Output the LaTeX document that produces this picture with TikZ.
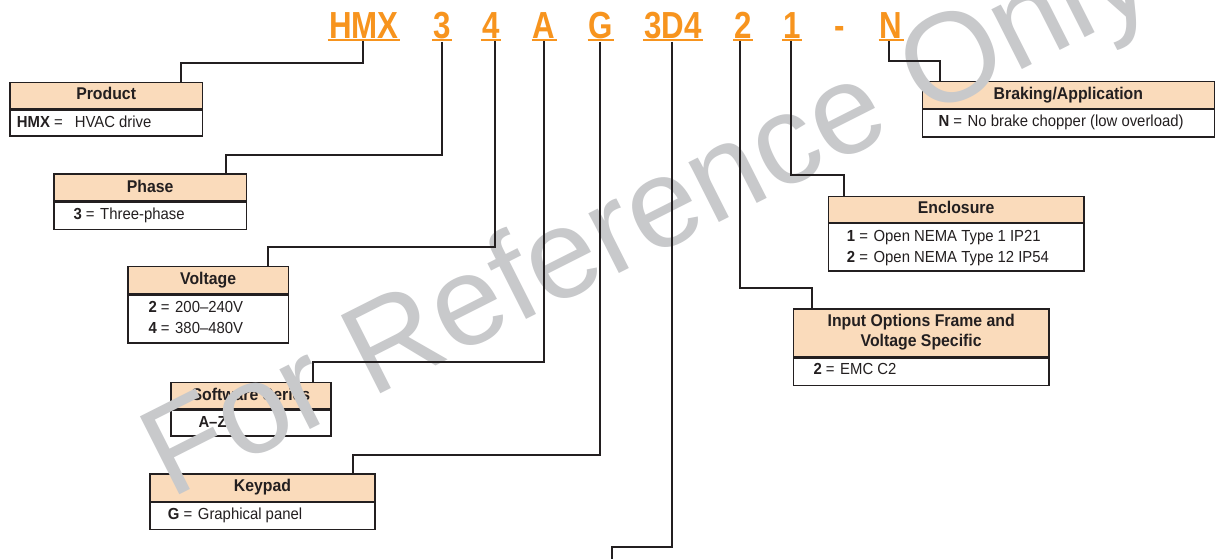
\documentclass[tikz,border=0pt]{standalone}
\usepackage{fontspec}
\setmainfont{Liberation Sans}
\newfontfamily\bodyfam{Liberation Sans}[FakeStretch=0.93]
\newfontfamily\codefam{Liberation Sans}[FakeStretch=0.83]
\newfontfamily\wmfam{Liberation Sans}
\usetikzlibrary{calc}
\definecolor{peach}{RGB}{250,219,187}
\definecolor{codeor}{RGB}{247,148,30}
\definecolor{wmgray}{RGB}{200,201,203}
\definecolor{ink}{RGB}{35,31,32}
\newcommand\myeq{\ =\ \hspace{1.5pt}}
\begin{document}
\begin{tikzpicture}[x=1pt,y=-1pt,
  hdrbox/.style={draw=ink, line width=1.3pt, fill=peach, inner sep=0pt, anchor=north west},
  bdybox/.style={draw=ink, line width=1.3pt, fill=white, inner sep=0pt, anchor=north west},
  htxt/.style={anchor=base, inner sep=0pt, font=\bodyfam\bfseries\fontsize{17}{20}\selectfont, text=ink},
  btxt/.style={anchor=base west, inner sep=0pt, font=\bodyfam\fontsize{16}{20}\selectfont, text=ink},
  codetxt/.style={anchor=base, inner sep=0pt, font=\codefam\bfseries\fontsize{37.7}{40}\selectfont, text=codeor},
  conn/.style={draw=ink, line width=2pt},
  uline/.style={draw=codeor, line width=2pt},
  wmark/.style={anchor=base west, inner sep=0pt, rotate=26.8, font=\wmfam\fontsize{127}{130}\selectfont, text=wmgray}
]
\useasboundingbox (0,0) rectangle (1215,559);
\fill[white] (0,0) rectangle (1215,559);

% ---- boxes ----
\node[hdrbox, minimum width=192.4pt, minimum height=26.6pt] (prodH) at (9.3,81.7) {};
\node[bdybox, minimum width=192.4pt, minimum height=25.7pt] (prodB) at (prodH.south west) {};
\node[htxt] (prodHt) at ($(prodH.north)+(0,18.3)$) {Product};
\node[btxt] (prodBt) at ($(prodB.north west)+(7.4,17.5)$) {\textbf{HMX} =\hspace{12pt}HVAC drive};

\node[hdrbox, minimum width=192.4pt, minimum height=26.7pt] (phaseH) at (53.3,173.3) {};
\node[bdybox, minimum width=192.4pt, minimum height=27.3pt] (phaseB) at (phaseH.south west) {};
\node[htxt] (phaseHt) at ($(phaseH.north)+(0,18.8)$) {Phase};
\node[btxt] (phaseBt) at ($(phaseB.north west)+(20,17.7)$) {\textbf{3}\myeq Three-phase};

\node[hdrbox, minimum width=160.4pt, minimum height=27.3pt] (voltH) at (127.3,266) {};
\node[bdybox, minimum width=160.4pt, minimum height=47.7pt] (voltB) at (voltH.south west) {};
\node[htxt] (voltHt) at ($(voltH.north)+(0,18.8)$) {Voltage};
\node[btxt] (voltBt1) at ($(voltB.north west)+(21,17.7)$) {\textbf{2}\myeq 200–240V};
\node[btxt] (voltBt2) at ($(voltB.north west)+(21,38.4)$) {\textbf{4}\myeq 380–480V};

\node[hdrbox, minimum width=160pt, minimum height=26.6pt] (swH) at (170.3,381.7) {};
\node[bdybox, minimum width=160pt, minimum height=25.7pt] (swB) at (swH.south west) {};
\node[htxt] (swHt) at ($(swH.north)+(0,18.3)$) {Software Series};
\node[btxt] (swBt) at ($(swB.north west)+(28,17.5)$) {\textbf{A–Z}};

\node[hdrbox, minimum width=225pt, minimum height=27.4pt] (keyH) at (149.3,473.3) {};
\node[bdybox, minimum width=225pt, minimum height=26.6pt] (keyB) at (keyH.south west) {};
\node[htxt] (keyHt) at ($(keyH.north)+(0,18.3)$) {Keypad};
\node[btxt] (keyBt) at ($(keyB.north west)+(18.4,17.5)$) {\textbf{G}\myeq Graphical panel};

\node[hdrbox, minimum width=292pt, minimum height=26.7pt] (brkH) at (921.7,81) {};
\node[bdybox, minimum width=292pt, minimum height=27.3pt] (brkB) at (brkH.south west) {};
\node[htxt] (brkHt) at ($(brkH.north)+(0,18.3)$) {Braking/Application};
\node[btxt] (brkBt) at ($(brkB.north west)+(16.6,17.5)$) {\textbf{N}\myeq No brake chopper (low overload)};

\node[hdrbox, minimum width=255.6pt, minimum height=26pt] (encH) at (827.7,195.7) {};
\node[bdybox, minimum width=255.6pt, minimum height=47.3pt] (encB) at (encH.south west) {};
\node[htxt] (encHt) at ($(encH.north)+(0,17.6)$) {Enclosure};
\node[btxt] (encBt1) at ($(encB.north west)+(19,18.3)$) {\textbf{1}\myeq Open NEMA Type 1 IP21};
\node[btxt] (encBt2) at ($(encB.north west)+(19,39.3)$) {\textbf{2}\myeq Open NEMA Type 12 IP54};

\node[hdrbox, minimum width=255.6pt, minimum height=47.7pt] (inH) at (792.7,308.3) {};
\node[bdybox, minimum width=255.6pt, minimum height=27.3pt] (inB) at (inH.south west) {};
\node[htxt] (inHt1) at ($(inH.north)+(0,18.4)$) {Input Options Frame and};
\node[htxt] (inHt2) at ($(inH.north)+(0,38.4)$) {Voltage Specific};
\node[btxt] (inBt) at ($(inB.north west)+(20.6,17.3)$) {\textbf{2}\myeq EMC C2};

% ---- watermark ----
\node[wmark] (wm) at (170,500) {For Reference Only};

% ---- codes ----
\node[codetxt] (cHMX) at (363.9,38.3) {HMX};
\node[codetxt] (c3) at (442.3,38.3) {3};
\node[codetxt] (c4) at (491.3,38.3) {4};
\node[codetxt] (cA) at (544.2,38.3) {A};
\node[codetxt] (cG) at (600.9,38.3) {G};
\node[codetxt] (c3D4) at (672.9,38.3) {3D4};
\node[codetxt] (c2) at (742.9,38.3) {2};
\node[codetxt] (c1) at (792.1,38.3) {1};
\node[codetxt] (cdash) at (839.7,38.3) {-};
\node[codetxt] (cN) at (891.1,38.3) {N};
\foreach \n in {cHMX,c3,c4,cA,cG,c3D4,c2,c1,cN}{
  \draw[uline] ($(\n.base west)+(-1,2)$) -- ($(\n.base east)+(1,2)$);
}

% ---- connectors ----
\draw[conn] ($(cHMX.south)+(-0.6,3)$) -- ++(0,22) -| ($(prodH.north west)+(171.7,0)$);
\draw[conn] ($(c3.south)+(0,3)$) -- ++(0,113) -| ($(phaseH.north west)+(172.7,0)$);
\draw[conn] ($(c4.south)+(3.6,3)$) -- ++(0,205.4) -| ($(voltH.north west)+(140.4,0)$);
\draw[conn] ($(cA.south)+(-0.2,3)$) -- ++(0,320.4) -| ($(swH.north west)+(142.4,0)$);
\draw[conn] ($(cG.south)+(-0.8,3)$) -- ++(0,413) -| ($(keyH.north west)+(203.4,0)$);
\coordinate (tail) at (611.7,559);
\draw[conn] ($(c3D4.south)+(-1.2,3)$) -- ++(0,505.4) -| (tail);
\draw[conn] ($(c2.south)+(-3.2,3)$) -- ++(0,246) -| ($(inH.north west)+(19,0)$);
\draw[conn] ($(c1.south)+(-1,3)$) -- ++(0,133) -| ($(encH.north west)+(16.6,0)$);
\draw[conn] ($(cN.south)+(-1.9,3)$) -- ++(0,19.7) -| ($(brkH.north west)+(18.3,0)$);
\end{tikzpicture}
\end{document}
